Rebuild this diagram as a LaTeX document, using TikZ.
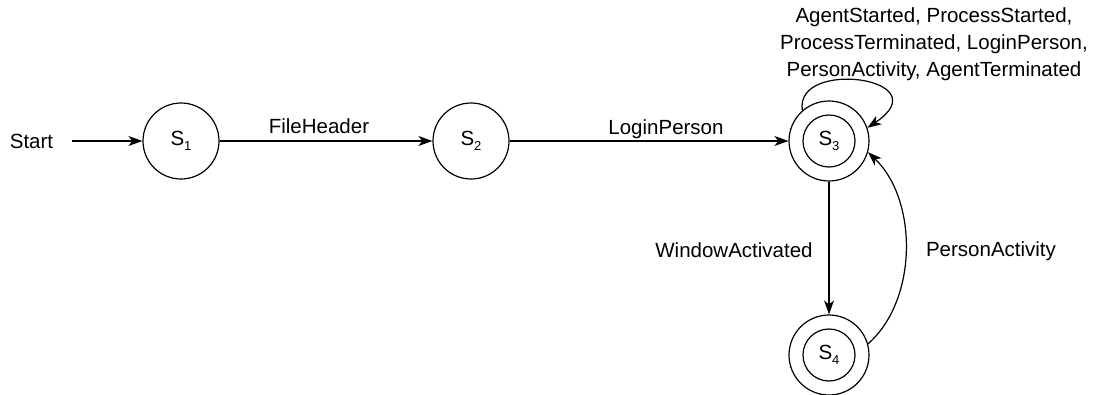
\documentclass[tikz,border=0pt]{standalone}
\usepackage{fontspec}
\setmainfont{Liberation Sans}
\usetikzlibrary{arrows.meta}
\newcommand\stname[1]{S\raisebox{-5pt}{\fontsize{13}{13}\selectfont #1}}
\begin{document}
\begin{tikzpicture}[x=1pt,y=-1pt,
  every node/.style={font=\fontsize{20.5}{27}\selectfont},
  state/.style={circle,draw,line width=1.2pt,minimum size=76pt,inner sep=0pt},
  accept/.style={circle,draw,line width=1.2pt,minimum size=80pt,inner sep=0pt},
  innerring/.style={circle,draw,line width=1.2pt,minimum size=52pt,inner sep=0pt},
  lbl/.style={anchor=base,inner sep=0pt},
  arr/.style={line width=1.2pt,-{Stealth[length=14pt,width=10pt,inset=4pt]}}]
\useasboundingbox (0,0) rectangle (1108,394);

% states
\node[state] (s1) at (181,141) {\stname{1}};
\node[state] (s2) at (471,141) {\stname{2}};
\node[accept] (s3) at (829,141) {};
\node[innerring] (s3in) at (829,141) {\stname{3}};
\node[accept] (s4) at (829,355) {};
\node[innerring] (s4in) at (829,355) {\stname{4}};

% start marker
\node[lbl] (start) at (31.5,148) {Start};

% transitions
\draw[arr,shorten <=19pt] (start.east |- s1) -- (s1);
\draw[arr] (s1) -- (s2);
\draw[arr] (s2) -- (s3);
\draw[arr] (s3) -- (s4);
\draw[arr] (s3.131) .. controls (794,58) and (942,78) .. (s3.19);
\draw[arr] (s4.16) .. controls (918,300) and (918,200) .. (s3.-16);

% transition labels
\node[lbl] (lfh) at (319,133) {FileHeader};
\node[lbl] (llp) at (666,134) {LoginPerson};
\node[lbl] (lwa) at (734,257) {WindowActivated};
\node[lbl] (lpa) at (991,256) {PersonActivity};
\node[align=center,anchor=north,inner sep=0pt] (lloop) at (934,7)
  {AgentStarted, ProcessStarted,\\ProcessTerminated, LoginPerson,\\PersonActivity, AgentTerminated};
\end{tikzpicture}
\end{document}
